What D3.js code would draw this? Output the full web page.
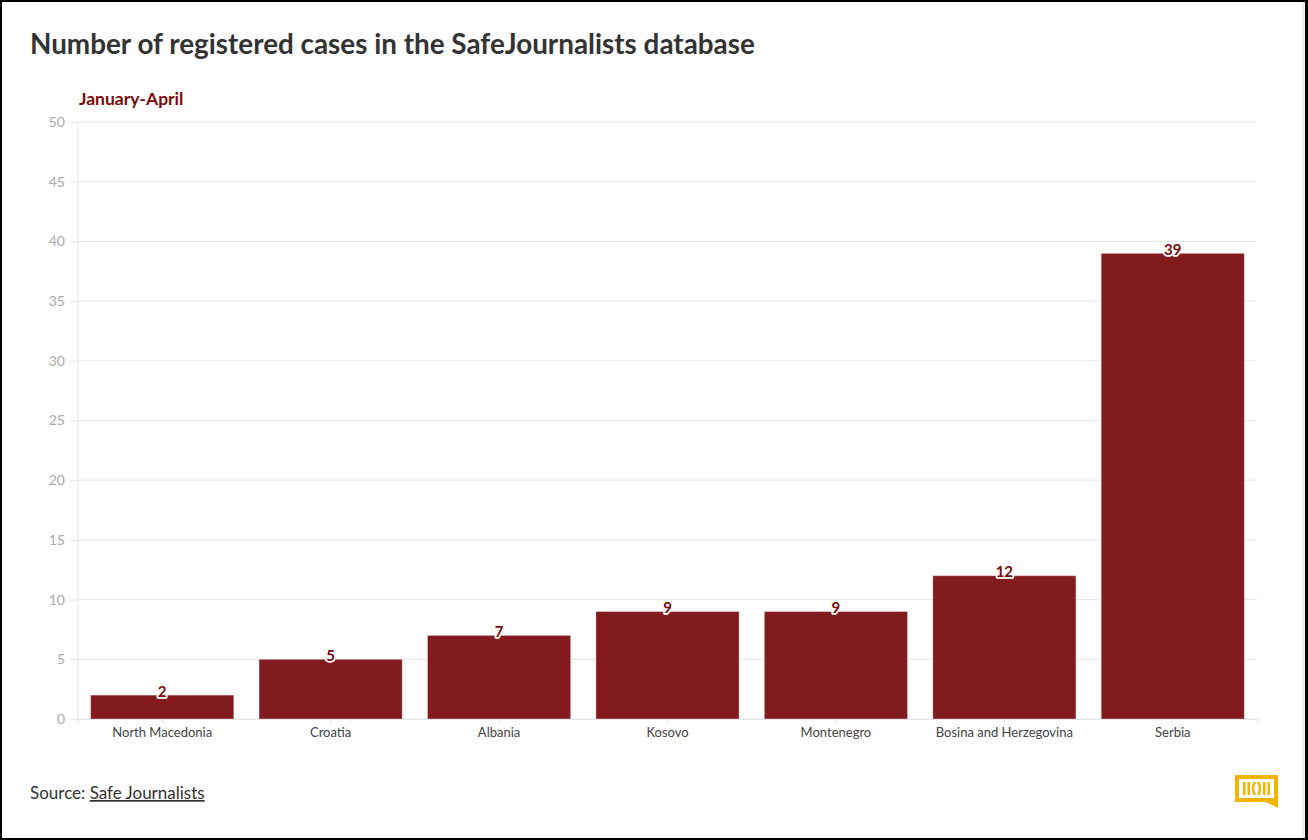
<!DOCTYPE html>
<html>
<head>
<meta charset="utf-8">
<script src="https://cdn.jsdelivr.net/npm/d3@7"></script>
<style>
  html, body { margin: 0; padding: 0; background: #fff; }
  body { width: 1308px; height: 840px; overflow: hidden; }
  svg { display: block; font-family: Lato, "Noto Sans", sans-serif; }
</style>
</head>
<body>
<svg id="chart" width="1308" height="840"></svg>
<script>
// Registered cases, January-April, by country
const countries = ["North Macedonia", "Croatia", "Albania", "Kosovo", "Montenegro", "Bosina and Herzegovina", "Serbia"];
const cases = [2, 5, 7, 9, 9, 12, 39];
const yTicks = [0, 5, 10, 15, 20, 25, 30, 35, 40, 45, 50];

const W = 1308, H = 840;
const margin = { top: 122, right: 51, bottom: 121, left: 78 };
const svg = d3.select("#chart");

// page frame
svg.append("rect").attr("x", 1).attr("y", 1).attr("width", W - 2).attr("height", H - 2)
  .attr("fill", "#fff").attr("stroke", "#000").attr("stroke-width", 2);
svg.append("rect").attr("x", 1302).attr("y", 2).attr("width", 3).attr("height", H - 4).attr("fill", "#f0f0f0");
svg.append("rect").attr("x", 1305).attr("y", 0).attr("width", 3).attr("height", H).attr("fill", "#000");

const x = d3.scaleBand()
  .domain(countries)
  .range([margin.left, W - margin.right])
  .paddingInner(0.15)
  .paddingOuter(0.075);

const y = d3.scaleLinear()
  .domain([0, 50])
  .range([H - margin.bottom, margin.top]);

// title
const title = svg.append("text")
  .attr("x", 30).attr("y", 54)
  .attr("fill", "#333")
  .style("font-weight", 700)
  .style("font-size", "26px")
  .text("Number of registered cases in the SafeJournalists database");
const tw = title.node().getComputedTextLength();
title.style("font-size", (26 * 725 / tw) + "px");

svg.append("text")
  .attr("x", 79).attr("y", 105)
  .attr("fill", "#7a0a0a")
  .style("font-weight", 700)
  .style("font-size", "17.5px")
  .text("January-April");

// grid + y axis
const yAxis = svg.append("g")
  .attr("transform", `translate(${margin.left},0)`)
  .call(d3.axisLeft(y).tickValues(yTicks).tickSize(8).tickPadding(5)
    .tickFormat(d3.format("d")));
yAxis.select(".domain").remove();
yAxis.selectAll(".tick line").attr("stroke", "#e6e6e6");
yAxis.selectAll(".tick text").attr("fill", "#aaa").style("font-size", "14px").style("font-family", "Lato, sans-serif");

svg.append("g")
  .selectAll("line")
  .data(yTicks)
  .join("line")
  .attr("x1", margin.left).attr("x2", W - margin.right)
  .attr("y1", d => y(d)).attr("y2", d => y(d))
  .attr("stroke", "#e6e6e6").attr("stroke-width", 1);

svg.append("line")
  .attr("x1", margin.left).attr("x2", margin.left)
  .attr("y1", y(50)).attr("y2", y(0))
  .attr("stroke", "#e6e6e6");

// bars
svg.append("g")
  .selectAll("rect")
  .data(countries)
  .join("rect")
  .attr("x", d => x(d))
  .attr("width", x.bandwidth())
  .attr("y", (d, i) => y(cases[i]))
  .attr("height", (d, i) => y(0) - y(cases[i]))
  .attr("fill", "#821b1d")
  .attr("stroke", "rgba(255,255,255,0.35)")
  .attr("stroke-width", 1);

// x axis
const xAxis = svg.append("g")
  .attr("transform", `translate(0,${y(0)})`)
  .call(d3.axisBottom(x).tickSize(5).tickPadding(4));
xAxis.select(".domain").attr("stroke", "#e6e6e6");
xAxis.selectAll(".tick line").attr("stroke", "#e6e6e6");
xAxis.selectAll(".tick text").attr("fill", "#444").style("font-size", "13px").style("font-family", "Lato, sans-serif");

// value labels
svg.append("g")
  .selectAll("text")
  .data(countries)
  .join("text")
  .attr("x", d => x(d) + x.bandwidth() / 2)
  .attr("y", (d, i) => y(cases[i]) + 1.5)
  .attr("text-anchor", "middle")
  .attr("fill", "#7a0a0a")
  .attr("stroke", "#fff")
  .attr("stroke-width", 3.5)
  .attr("stroke-linejoin", "round")
  .attr("paint-order", "stroke")
  .style("font-weight", 700)
  .style("font-size", "15px")
  .text((d, i) => cases[i]);

// source
const src = svg.append("text")
  .attr("x", 30).attr("y", 799)
  .attr("fill", "#333")
  .style("font-size", "17px");
src.append("tspan").text("Source: ");
src.append("tspan").style("text-decoration", "underline").text("Safe Journalists");

// logo
const logo = svg.append("g").attr("transform", "translate(1235,775)");
logo.append("path")
  .attr("d", "M0,0 H43 V33 L31,27 H0 Z")
  .attr("fill", "#f5b400");
logo.append("rect").attr("x", 4).attr("y", 4).attr("width", 35).attr("height", 19).attr("fill", "#fff");
[[8, 2.5], [12.5, 2.5], [28, 2.5], [32.5, 2.5]].forEach(([bx, bw]) => {
  logo.append("rect").attr("x", bx).attr("y", 7).attr("width", bw).attr("height", 13).attr("fill", "#f5b400");
});
logo.append("path").attr("d", "M20,7 Q16,13.5 20,20").attr("fill", "none").attr("stroke", "#f5b400").attr("stroke-width", 2.5);
logo.append("path").attr("d", "M23,7 Q27,13.5 23,20").attr("fill", "none").attr("stroke", "#f5b400").attr("stroke-width", 2.5);
</script>
</body>
</html>
